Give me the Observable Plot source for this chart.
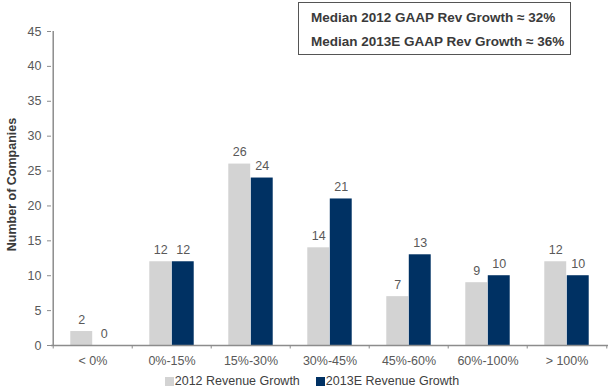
<!DOCTYPE html>
<html>
<head>
<meta charset="utf-8">
<script src="https://cdn.jsdelivr.net/npm/d3@7"></script>
<script src="https://cdn.jsdelivr.net/npm/@observablehq/plot@0.6"></script>
<style>
  html, body { margin: 0; padding: 0; background: #fff; }
  body { width: 610px; height: 390px; overflow: hidden; font-family: "Liberation Sans", Arial, sans-serif; }
  #wrap { position: relative; width: 610px; }
  #box { position: absolute; left: 298px; top: 2px; width: 273px; height: 53px; border: 1px solid #555; box-sizing: border-box;
         font-weight: bold; font-size: 13.5px; color: #3a3a3a; }
  #box div { position: absolute; left: 12px; white-space: nowrap; }
  #legend { height: 18px; display: flex; align-items: center; justify-content: center; padding-left: 14px;
            font-size: 12.5px; color: #404040; gap: 16px; }
  .sw { display: inline-block; width: 9px; height: 9px; margin-right: 1px; vertical-align: -1px; }
</style>
</head>
<body>
<div id="wrap">
  <div id="chart"></div>
  <div id="box"><div style="top:7px">Median 2012 GAAP Rev Growth ≈ 32%</div><div style="top:31px">Median 2013E GAAP Rev Growth ≈ 36%</div></div>
  <div id="legend"></div>
</div>
<script>
const categories = ["< 0%", "0%-15%", "15%-30%", "30%-45%", "45%-60%", "60%-100%", "> 100%"];
const growth2012 = [2, 12, 26, 14, 7, 9, 12];
const growth2013E = [0, 12, 24, 21, 13, 10, 10];
const seriesNames = ["2012 Revenue Growth", "2013E Revenue Growth"];
const seriesColors = ["#d3d3d3", "#003163"];
const yTicks = [0, 5, 10, 15, 20, 25, 30, 35, 40, 45];

const rows = [];
categories.forEach((c, i) => {
  rows.push({cat: c, series: seriesNames[0], value: growth2012[i]});
  rows.push({cat: c, series: seriesNames[1], value: growth2013E[i]});
});
const s0 = rows.filter(d => d.series === seriesNames[0]);
const s1 = rows.filter(d => d.series === seriesNames[1]);

const W = 610, H = 372, mL = 51, mR = 2, mT = 31, mB = 27;
const band = (W - mL - mR) / categories.length;
const barW = 22.5;
const outer = (band - 2 * barW) / 2;

const plot = Plot.plot({
  width: W, height: H,
  marginLeft: mL, marginRight: mR, marginTop: mT, marginBottom: mB,
  style: {fontFamily: "Liberation Sans, Arial, sans-serif", fontSize: "12px", color: "#595959", background: "#fff"},
  x: {domain: categories, padding: 0, axis: null},
  y: {domain: [0, 45], axis: null},
  marks: [
    Plot.barY(s0, {x: "cat", y: "value", fill: seriesColors[0], insetLeft: outer, insetRight: outer + barW}),
    Plot.barY(s1, {x: "cat", y: "value", fill: seriesColors[1], insetLeft: outer + barW, insetRight: outer}),
    Plot.text(s0, {x: "cat", y: "value", text: d => String(d.value), dx: -barW / 2, dy: -12, fill: "#595959", fontSize: 12.5}),
    Plot.text(s1, {x: "cat", y: "value", text: d => String(d.value), dx: barW / 2, dy: -12, fill: "#595959", fontSize: 12.5}),
    // y axis
    Plot.ruleX([categories[0]], {dx: -band / 2, y1: 0, y2: 45, stroke: "#8c8c8c", strokeWidth: 1.5}),
    Plot.axisY({ticks: yTicks, tickSize: 4, tickPadding: 6, label: null, stroke: "#8c8c8c", fill: "#595959", fontSize: 12.5}),
    // x axis
    Plot.ruleY([0], {stroke: "#8c8c8c", strokeWidth: 1.5}),
    Plot.ruleX(categories, {dx: -band / 2, y1: 0, y2: -0.5, stroke: "#8c8c8c"}),
    Plot.ruleX([categories[categories.length - 1]], {dx: band / 2, y1: 0, y2: -0.5, stroke: "#8c8c8c"}),
    Plot.text(categories, {x: d => d, frameAnchor: "bottom", lineAnchor: "middle", dy: 15, fill: "#595959", fontSize: 12.5}),
    // y title
    Plot.text(["Number of Companies"], {frameAnchor: "left", textAnchor: "middle", dx: -40, dy: -4, rotate: -90, fontWeight: "bold", fill: "#3a3a3a", fontSize: 12.5})
  ]
});
document.getElementById("chart").appendChild(plot);

const legend = document.getElementById("legend");
seriesNames.forEach((n, i) => {
  const item = document.createElement("span");
  item.innerHTML = `<span class="sw" style="background:${seriesColors[i]}"></span>${n}`;
  legend.appendChild(item);
});
</script>
</body>
</html>
